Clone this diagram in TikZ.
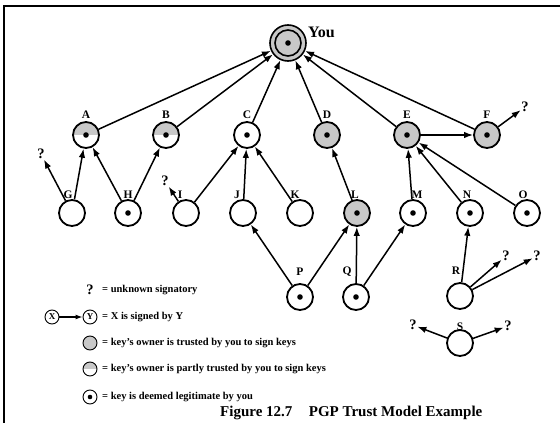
\documentclass[tikz,border=0pt]{standalone}
\usepackage{fontspec}
\setmainfont{Liberation Serif}
\usetikzlibrary{arrows.meta}
\definecolor{trustgray}{RGB}{200,200,200}
\begin{document}
\begin{tikzpicture}[x=1pt,y=-1pt,
  key/.style={circle, draw, line width=1.8pt, minimum size=26pt, inner sep=0pt, fill=white},
  full/.style={fill=trustgray},
  half/.style={path picture={\fill[trustgray] (path picture bounding box.north west) rectangle (path picture bounding box.east);}},
  lab/.style={font=\bfseries\fontsize{11.5}{11.5}\selectfont, inner sep=1pt},
  q/.style={font=\bfseries\fontsize{14.5}{14.5}\selectfont, inner sep=0.5pt},
  sig/.style={-{Latex[length=9pt,width=6.5pt]}, line width=1.5pt},
  lkey/.style={circle, draw, line width=0.9pt, minimum size=14pt, inner sep=0pt, fill=white, font=\bfseries\fontsize{9}{9}\selectfont},
  legtxt/.style={anchor=west, inner sep=0pt, font=\bfseries\fontsize{10.5}{10.5}\selectfont}
]
\useasboundingbox (0,0) rectangle (560,423);
\fill[white] (0,0) rectangle (560,423);
% frame (top and left rules)
\draw[line width=2.8pt] (560,6) -- (4,6) -- (4,423);

% the owner of the keyring
\node[key, full, minimum size=36pt, line width=1.6pt] (You) at (288,43) {};
\draw[line width=1.6pt, fill=trustgray] (You) circle[radius=13];
\node[anchor=west, inner sep=0pt, font=\bfseries\fontsize{16}{16}\selectfont] (youlab) at (308,32) {You};

% first level
\begin{scope}[label distance=1.5pt]
\node[key, half, label={[lab]above:A}] (A) at (86,135) {};
\node[key, half, label={[lab]above:B}] (B) at (166,135) {};
\node[key,       label={[lab]above:C}] (C) at (247,135) {};
\node[key, full, label={[lab]above:D}] (D) at (327,135) {};
\node[key, full, label={[lab]above:E}] (E) at (407,135) {};
\node[key, full, label={[lab]above:F}] (F) at (487,135) {};
\end{scope}

% second level
\begin{scope}[label distance=-0.5pt]
\node[key,       label={[lab,xshift=-4pt]above:G}] (G) at (72,213) {};
\node[key,       label={[lab]above:H}] (H) at (128,213) {};
\node[key,       label={[lab,xshift=-6pt]above:I}] (I) at (186,213) {};
\node[key,       label={[lab,xshift=-6pt]above:J}] (J) at (243,213) {};
\node[key,       label={[lab,xshift=-5pt]above:K}] (K) at (300,213) {};
\node[key, full, label={[lab,xshift=-2pt]above:L}] (L) at (357,213) {};
\node[key,       label={[lab,xshift=4pt]above:M}] (M) at (413,213) {};
\node[key,       label={[lab,xshift=-3pt]above:N}] (N) at (470,213) {};
\node[key,       label={[lab,xshift=-4pt]above:O}] (O) at (527,213) {};
\end{scope}

% third level
\begin{scope}[label distance=6pt]
\node[key, label={[lab]above:P}] (P) at (300,297) {};
\node[key, label={[lab,xshift=-9pt]above:Q}] (Q) at (356,297) {};
\node[key, label={[lab,xshift=-4pt]above:R}] (R) at (460,296) {};
\end{scope}
\node[key, label={[lab,label distance=-3pt]above:S}] (S) at (460,343) {};

% legitimate keys
\foreach \n in {You,A,B,C,D,E,F,H,L,M,N,O,P,Q}
  \fill (\n) circle[radius=2.8];

% unknown signatories
\node[q] (qF) at (525,107) {?};
\node[q] (qG) at (41,154) {?};
\node[q] (qI) at (165,181) {?};
\node[q] (qR1) at (506,256) {?};
\node[q] (qR2) at (537,256) {?};
\node[q] (qS1) at (413,325) {?};
\node[q] (qS2) at (508,326) {?};

% signatures
\foreach \s in {A,B,C,D,E,F} \draw[sig] (\s) -- (You);
\draw[sig] (E) -- (F);
\draw[sig] (F) -- (qF);
\draw[sig] (G) -- (qG);
\draw[sig] (G) -- (A);
\draw[sig] (H) -- (A);
\draw[sig] (H) -- (B);
\draw[sig] (I) -- (qI);
\draw[sig] (I) -- (C);
\draw[sig] (J) -- (C);
\draw[sig] (K) -- (C);
\draw[sig] (L) -- (D);
\draw[sig] (M) -- (E);
\draw[sig] (N) -- (E);
\draw[sig] (O) -- (E);
\draw[sig] (P) -- (J);
\draw[sig] (P) -- (L);
\draw[sig] (Q) -- (L);
\draw[sig] (Q) -- (M);
\draw[sig] (R) -- (N);
\draw[sig] (R) -- (qR1);
\draw[sig] (R) -- (qR2);
\draw[sig] (S) -- (qS1);
\draw[sig] (S) -- (qS2);

% legend
\node[q] (lq) at (90,290) {?};
\node[legtxt] (lt1) at (102,290) {= unknown signatory};
\node[lkey] (lx) at (52,317) {X};
\node[lkey] (ly) at (90,317) {Y};
\draw[-{Latex[length=7pt,width=5pt]}, line width=1.3pt] (lx) -- (ly);
\node[legtxt] (lt2) at (102,317) {= X is signed by Y};
\node[lkey, full] (lg) at (90,343) {};
\node[legtxt] (lt3) at (102,343) {= key's owner is trusted by you to sign keys};
\node[lkey, half] (lh) at (90,369) {};
\node[legtxt] (lt4) at (102,369) {= key's owner is partly trusted by you to sign keys};
\node[lkey] (ld) at (90,397) {};
\fill (ld) circle[radius=2.3];
\node[legtxt] (lt5) at (102,397) {= key is deemed legitimate by you};

% caption
\node[anchor=west, inner sep=0pt, font=\bfseries\fontsize{15}{15}\selectfont] (cap) at (220,413) {Figure 12.7\hspace{1.1em}PGP Trust Model Example};
\end{tikzpicture}
\end{document}
